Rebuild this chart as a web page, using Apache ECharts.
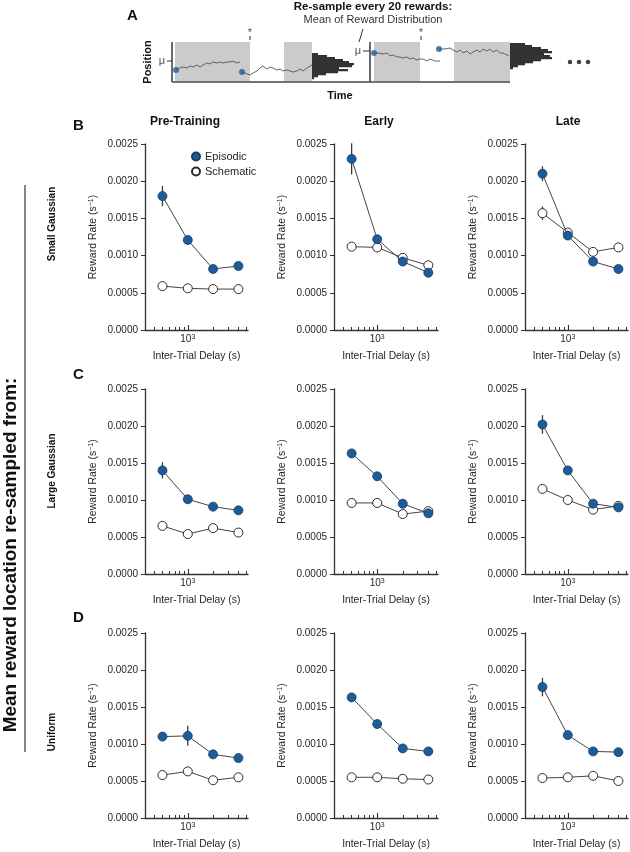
<!DOCTYPE html>
<html><head><meta charset="utf-8">
<script src="https://cdn.jsdelivr.net/npm/echarts@6/dist/echarts.min.js"></script>
<style>html,body{margin:0;padding:0;background:#fff}#c{width:630px;height:852px}</style>
</head><body><div id="c"></div>
<script>
// ---------------- DATA ----------------
const delays = [500, 1000, 2000, 4000];
const minorTickValues = [400, 500, 600, 700, 800, 900, 2000, 3000, 4000, 5000];
const majorTickValues = [1000];
const yTickValues = [0, 0.0005, 0.0010, 0.0015, 0.0020, 0.0025];
const columnTitles = ['Pre-Training', 'Early', 'Late'];
const rowTitles = ['Small Gaussian', 'Large Gaussian', 'Uniform'];
const rowLetters = ['B', 'C', 'D'];
const seriesNames = ['Episodic', 'Schematic'];

const smallPreEpisodic = [0.00180, 0.00121, 0.00082, 0.00086];
const smallPreSchematic = [0.00059, 0.00056, 0.00055, 0.00055];
const smallEarlyEpisodic = [0.00230, 0.00122, 0.00092, 0.00077];
const smallEarlySchematic = [0.00112, 0.00111, 0.00097, 0.00087];
const smallLateEpisodic = [0.00210, 0.00127, 0.00092, 0.00082];
const smallLateSchematic = [0.00157, 0.00131, 0.00105, 0.00111];

const largePreEpisodic = [0.00140, 0.00101, 0.00091, 0.00086];
const largePreSchematic = [0.00065, 0.00054, 0.00062, 0.00056];
const largeEarlyEpisodic = [0.00163, 0.00132, 0.00095, 0.00082];
const largeEarlySchematic = [0.00096, 0.00096, 0.00081, 0.00085];
const largeLateEpisodic = [0.00202, 0.00140, 0.00095, 0.00090];
const largeLateSchematic = [0.00115, 0.00100, 0.00087, 0.00092];

const uniformPreEpisodic = [0.00110, 0.00111, 0.00086, 0.00081];
const uniformPreSchematic = [0.00058, 0.00063, 0.00051, 0.00055];
const uniformEarlyEpisodic = [0.00163, 0.00127, 0.00094, 0.00090];
const uniformEarlySchematic = [0.00055, 0.00055, 0.00053, 0.00052];
const uniformLateEpisodic = [0.00177, 0.00112, 0.00090, 0.00089];
const uniformLateSchematic = [0.00054, 0.00055, 0.00057, 0.00050];

// error bar half-lengths
const smallPreEpisodicErr = [0.000135, 0.00004, 0.00003, 0.00003];
const smallPreSchematicErr = [0.00002, 0.00002, 0.00002, 0.00002];
const smallEarlyEpisodicErr = [0.00021, 0.00005, 0.00003, 0.00003];
const smallEarlySchematicErr = [0.00002, 0.00003, 0.00003, 0.00002];
const smallLateEpisodicErr = [0.00010, 0.00004, 0.00003, 0.00002];
const smallLateSchematicErr = [0.00009, 0.00004, 0.00003, 0.00002];
const largePreEpisodicErr = [0.00011, 0.00003, 0.00003, 0.00002];
const largePreSchematicErr = [0.00002, 0.00002, 0.00002, 0.00002];
const largeEarlyEpisodicErr = [0.00005, 0.00003, 0.00003, 0.00002];
const largeEarlySchematicErr = [0.00002, 0.00002, 0.00002, 0.00002];
const largeLateEpisodicErr = [0.000126, 0.00003, 0.00003, 0.00002];
const largeLateSchematicErr = [0.00003, 0.00002, 0.00002, 0.00002];
const uniformPreEpisodicErr = [0.00003, 0.000135, 0.00003, 0.00002];
const uniformPreSchematicErr = [0.00002, 0.00002, 0.00002, 0.00002];
const uniformEarlyEpisodicErr = [0.00003, 0.00003, 0.00002, 0.00002];
const uniformEarlySchematicErr = [0.00002, 0.00002, 0.00002, 0.00002];
const uniformLateEpisodicErr = [0.000126, 0.00004, 0.00002, 0.00002];
const uniformLateSchematicErr = [0.00002, 0.00002, 0.00002, 0.00002];

// Panel A schematic (time, position) values
const shadedIntervals = [[3, 78], [112, 140], [202, 248], [282, 338]];
const trace1 = [[4,12],[8,14],[11,15],[15,14],[18,16],[21,15],[25,17],[28,15],[31,17],[35,19],[38,18],[41,20],[45,19],[48,20],[51,19],[55,20],[58,20],[61,21],[65,19],[68,20]];
const trace2 = [[70,10],[78,7],[81,9],[85,11],[88,14],[91,16],[95,13],[98,15],[101,14],[105,12],[108,13],[111,11],[115,12],[118,11],[121,10],[125,11],[128,13],[131,11],[135,14],[140,17]];
const trace3 = [[202,29],[206,29],[211,28],[215,29],[218,26],[221,27],[225,25],[228,25],[231,24],[235,25],[238,23],[241,24],[245,22],[248,23],[251,23],[255,21],[258,23],[263,21],[268,21]];
const trace4 = [[267,33],[273,33],[278,34],[281,32],[285,30],[288,32],[291,29],[295,31],[298,28],[301,30],[305,32],[308,30],[311,33],[315,31],[318,33],[321,30],[325,32],[328,29],[331,29],[337,26]];
// histogram bar lengths, listed from the lowest position bin upward
const histogram1Counts = [2, 6, 14, 26, 36, 27, 40, 42, 37, 31, 23, 15, 6];
const histogram2Counts = [3, 8, 15, 23, 31, 42, 40, 34, 42, 38, 31, 22, 15];
const muMarks = [[-10, 21], [186, 31]];
const resampleMarks = [[78, 49], [249, 49]];

// ---------------- LAYOUT / STYLE ----------------
const FONT = '"Liberation Sans", Arial, sans-serif';
const TEXT = '#262626';
const AXIS = '#333333';
const BLUE = '#1d5c9b';
const colLefts = [145, 334, 525];
const colWidths = [103, 104, 103];
const rowTops = [144, 389, 633];
const rowHeights = [186, 185, 185];
const xMin = 310, xMax = 5200;

const panels = [
  [smallPreEpisodic, smallPreEpisodicErr, smallPreSchematic, smallPreSchematicErr],
  [smallEarlyEpisodic, smallEarlyEpisodicErr, smallEarlySchematic, smallEarlySchematicErr],
  [smallLateEpisodic, smallLateEpisodicErr, smallLateSchematic, smallLateSchematicErr],
  [largePreEpisodic, largePreEpisodicErr, largePreSchematic, largePreSchematicErr],
  [largeEarlyEpisodic, largeEarlyEpisodicErr, largeEarlySchematic, largeEarlySchematicErr],
  [largeLateEpisodic, largeLateEpisodicErr, largeLateSchematic, largeLateSchematicErr],
  [uniformPreEpisodic, uniformPreEpisodicErr, uniformPreSchematic, uniformPreSchematicErr],
  [uniformEarlyEpisodic, uniformEarlyEpisodicErr, uniformEarlySchematic, uniformEarlySchematicErr],
  [uniformLateEpisodic, uniformLateEpisodicErr, uniformLateSchematic, uniformLateSchematicErr]
];

const grids = [{left: 172, top: 42, width: 338, height: 40}];
const xAxes = [{gridIndex: 0, type: 'value', min: 0, max: 338, show: false}];
const yAxes = [{gridIndex: 0, type: 'value', min: 0, max: 40, show: false}];
const series = [];

function errRender(params, api) {
  const x = api.value(0);
  const p1 = api.coord([x, api.value(1)]);
  const p2 = api.coord([x, api.value(2)]);
  return {type: 'line', shape: {x1: p1[0], y1: p1[1], x2: p2[0], y2: p2[1]},
          style: {stroke: '#3a3a3a', lineWidth: 1.3}};
}

panels.forEach((p, i) => {
  const row = Math.floor(i / 3), col = i % 3;
  const gi = grids.length;
  grids.push({left: colLefts[col], top: rowTops[row], width: colWidths[col], height: rowHeights[row]});
  const xi = xAxes.length;
  xAxes.push({gridIndex: gi, type: 'log', logBase: 10, min: xMin, max: xMax, position: 'bottom',
    axisLine: {show: true, onZero: false, lineStyle: {color: AXIS, width: 1.3}},
    axisTick: {show: true, inside: true, length: 3, customValues: minorTickValues, lineStyle: {color: AXIS, width: 1}},
    axisLabel: {show: false}, splitLine: {show: false}});
  xAxes.push({gridIndex: gi, type: 'log', logBase: 10, min: xMin, max: xMax, position: 'bottom',
    axisLine: {show: false, onZero: false},
    axisTick: {show: true, inside: true, length: 5, customValues: majorTickValues, lineStyle: {color: AXIS, width: 1.1}},
    axisLabel: {show: true, customValues: majorTickValues, formatter: () => '10{sup|3}', fontSize: 10, color: TEXT, margin: 4, fontFamily: FONT,
      rich: {sup: {fontSize: 7, verticalAlign: 'top', color: TEXT, fontFamily: FONT}}},
    splitLine: {show: false},
    name: 'Inter-Trial Delay (s)', nameLocation: 'middle', nameGap: 21,
    nameTextStyle: {fontSize: 10.3, color: TEXT, fontFamily: FONT}});
  const yi = yAxes.length;
  yAxes.push({gridIndex: gi, type: 'value', min: yTickValues[0], max: yTickValues[yTickValues.length - 1], interval: 0.0005,
    axisLine: {show: true, lineStyle: {color: AXIS, width: 1.3}},
    axisTick: {show: true, length: 4, lineStyle: {color: AXIS, width: 1}},
    axisLabel: {fontSize: 10, color: TEXT, margin: 7, fontFamily: FONT, formatter: v => v.toFixed(4)},
    splitLine: {show: false},
    name: 'Reward Rate (s{sup|\u22121})', nameLocation: 'middle', nameGap: 46,
    nameTextStyle: {fontSize: 10.5, color: TEXT, fontFamily: FONT,
      rich: {sup: {fontSize: 7, verticalAlign: 'top', color: TEXT, fontFamily: FONT}}}});
  const [ep, epErr, sc, scErr] = p;
  const errData = [];
  delays.forEach((d, k) => {
    errData.push([d, ep[k] - epErr[k], ep[k] + epErr[k]]);
    errData.push([d, sc[k] - scErr[k], sc[k] + scErr[k]]);
  });
  series.push({type: 'custom', name: 'err' + i, xAxisIndex: xi, yAxisIndex: yi, renderItem: errRender,
    data: errData, encode: {x: 0, y: [1, 2]}, z: 2, silent: true, clip: false});
  series.push({type: 'line', name: seriesNames[1], xAxisIndex: xi, yAxisIndex: yi,
    data: delays.map((d, k) => [d, sc[k]]), symbol: 'circle', symbolSize: 9, showAllSymbol: true,
    itemStyle: {color: '#ffffff', borderColor: '#2b2b2b', borderWidth: 1},
    lineStyle: {color: '#444', width: 1}, z: 3});
  series.push({type: 'line', name: seriesNames[0], xAxisIndex: xi, yAxisIndex: yi,
    data: delays.map((d, k) => [d, ep[k]]), symbol: 'circle', symbolSize: 9, showAllSymbol: true,
    itemStyle: {color: BLUE, borderColor: '#163c61', borderWidth: 0.8},
    lineStyle: {color: '#444', width: 1}, z: 4});
});

// ---------- Panel A series ----------
series.push({type: 'custom', name: 'shade', xAxisIndex: 0, yAxisIndex: 0, clip: false, silent: true, z: 1,
  data: shadedIntervals, encode: {x: [0, 1]},
  renderItem: (params, api) => {
    const a = api.coord([api.value(0), 40]);
    const b = api.coord([api.value(1), 1]);
    return {type: 'rect', shape: {x: a[0], y: a[1], width: b[0] - a[0], height: b[1] - a[1]}, style: {fill: '#cbcbcb'}};
  }});
function histData(base, start, counts) {
  return counts.map((c, k) => [base, start + 2 * k, start + 2 * k + 2, c]);
}
series.push({type: 'custom', name: 'hist', xAxisIndex: 0, yAxisIndex: 0, clip: false, silent: true, z: 2,
  data: histData(140, 3, histogram1Counts).concat(histData(338, 13, histogram2Counts)),
  encode: {x: 0, y: [1, 2]},
  renderItem: (params, api) => {
    const base = api.value(0), lo = api.value(1), hi = api.value(2), len = api.value(3);
    const a = api.coord([base, hi]);
    const b = api.coord([base + len, lo]);
    return {type: 'rect', shape: {x: a[0], y: a[1], width: b[0] - a[0], height: b[1] - a[1] + 0.3}, style: {fill: '#333'}};
  }});
[trace1, trace2, trace3, trace4].forEach((t, k) => {
  series.push({type: 'line', name: 'trace' + k, xAxisIndex: 0, yAxisIndex: 0, data: t, showSymbol: false,
    lineStyle: {color: '#555', width: 0.9}, z: 3, silent: true, clip: false});
});
series.push({type: 'scatter', name: 'starts', xAxisIndex: 0, yAxisIndex: 0, silent: true, z: 4,
  data: [trace1[0], trace2[0], trace3[0], trace4[0]], symbolSize: 6, itemStyle: {color: BLUE}});
const segData = [[0, 0, 338, 0], [0, 0, 0, 40], [198, 0, 198, 40],
  [muMarks[0][0] + 5, muMarks[0][1], 0, muMarks[0][1]], [muMarks[1][0] + 5, muMarks[1][1], 198, muMarks[1][1]],
  [resampleMarks[0][0], 42, resampleMarks[0][0], 46], [resampleMarks[1][0], 42, resampleMarks[1][0], 46],
  [muMarks[1][0] + 1, 40, muMarks[1][0] + 5, 53]];
series.push({type: 'custom', name: 'frame', xAxisIndex: 0, yAxisIndex: 0, clip: false, silent: true, z: 5,
  data: segData, encode: {x: [0, 2], y: [1, 3]},
  renderItem: (params, api) => {
    const a = api.coord([api.value(0), api.value(1)]);
    const b = api.coord([api.value(2), api.value(3)]);
    const main = params.dataIndex < 3;
    return {type: 'line', shape: {x1: a[0], y1: a[1], x2: b[0], y2: b[1]},
      style: {stroke: main ? '#444' : '#333', lineWidth: main ? 1.6 : 1}};
  }});
series.push({type: 'scatter', name: 'marks', xAxisIndex: 0, yAxisIndex: 0, silent: true, z: 6, symbolSize: 0, clip: false,
  data: muMarks.map(m => ({value: m, name: '\u03bc'})).concat(resampleMarks.map(m => ({value: m, name: '*'}))),
  label: {show: true, position: 'inside', formatter: '{b}', color: '#222', fontSize: 11, fontFamily: FONT}});
series.push({type: 'scatter', name: 'ellipsis', xAxisIndex: 0, yAxisIndex: 0, silent: true, z: 6, clip: false,
  data: [[398, 20], [407, 20], [416, 20]], symbolSize: 4.5, itemStyle: {color: '#111'}});

// ---------- static texts ----------
function txt(text, x, y, size, bold, extra) {
  const el = {type: 'text', x: x, y: y, silent: true,
    style: {text: text, font: (bold ? 'bold ' : '') + size + 'px ' + FONT, fill: extra && extra.fill || '#111',
      align: extra && extra.align || 'center', verticalAlign: 'middle'}};
  if (extra && extra.rotation) el.rotation = extra.rotation;
  return el;
}
const graphic = [
  txt('A', 127, 15.5, 15, true, {align: 'left'}),
  txt('Re-sample every 20 rewards:', 373, 7, 11.5, true),
  txt('Mean of Reward Distribution', 373, 19.5, 11, false, {fill: '#333'}),
  txt('Position', 147.5, 62, 11, true, {rotation: Math.PI / 2}),
  txt('Time', 340, 96, 11, true),
  txt('Mean reward location re-sampled from:', 11, 555, 19, true, {rotation: Math.PI / 2}),
  {type: 'line', silent: true, shape: {x1: 25, y1: 185, x2: 25, y2: 752}, style: {stroke: '#444', lineWidth: 1.3}}
];
const letterY = [125.5, 375, 617.5];
const rowLabelY = [224, 471, 732];
rowLetters.forEach((L, r) => graphic.push(txt(L, 73, letterY[r], 15, true, {align: 'left'})));
rowTitles.forEach((t, r) => graphic.push(txt(t, 52, rowLabelY[r], 10, true, {rotation: Math.PI / 2})));
const titleX = [185, 379, 568];
columnTitles.forEach((t, c) => graphic.push(txt(t, titleX[c], 122, 12, true)));

const chart = echarts.init(document.getElementById('c'), null, {renderer: 'canvas', width: 630, height: 852});
chart.setOption({
  animation: false,
  backgroundColor: '#ffffff',
  grid: grids, xAxis: xAxes, yAxis: yAxes, series: series, graphic: graphic,
  legend: {data: [{name: 'Episodic', icon: 'circle'}, {name: 'Schematic', icon: 'circle'}],
    left: 191, top: 151, orient: 'vertical', itemWidth: 8, itemHeight: 8, itemGap: 4, padding: 0, selectedMode: false,
    textStyle: {fontSize: 11, color: TEXT, fontFamily: FONT}}
});
</script></body></html>
